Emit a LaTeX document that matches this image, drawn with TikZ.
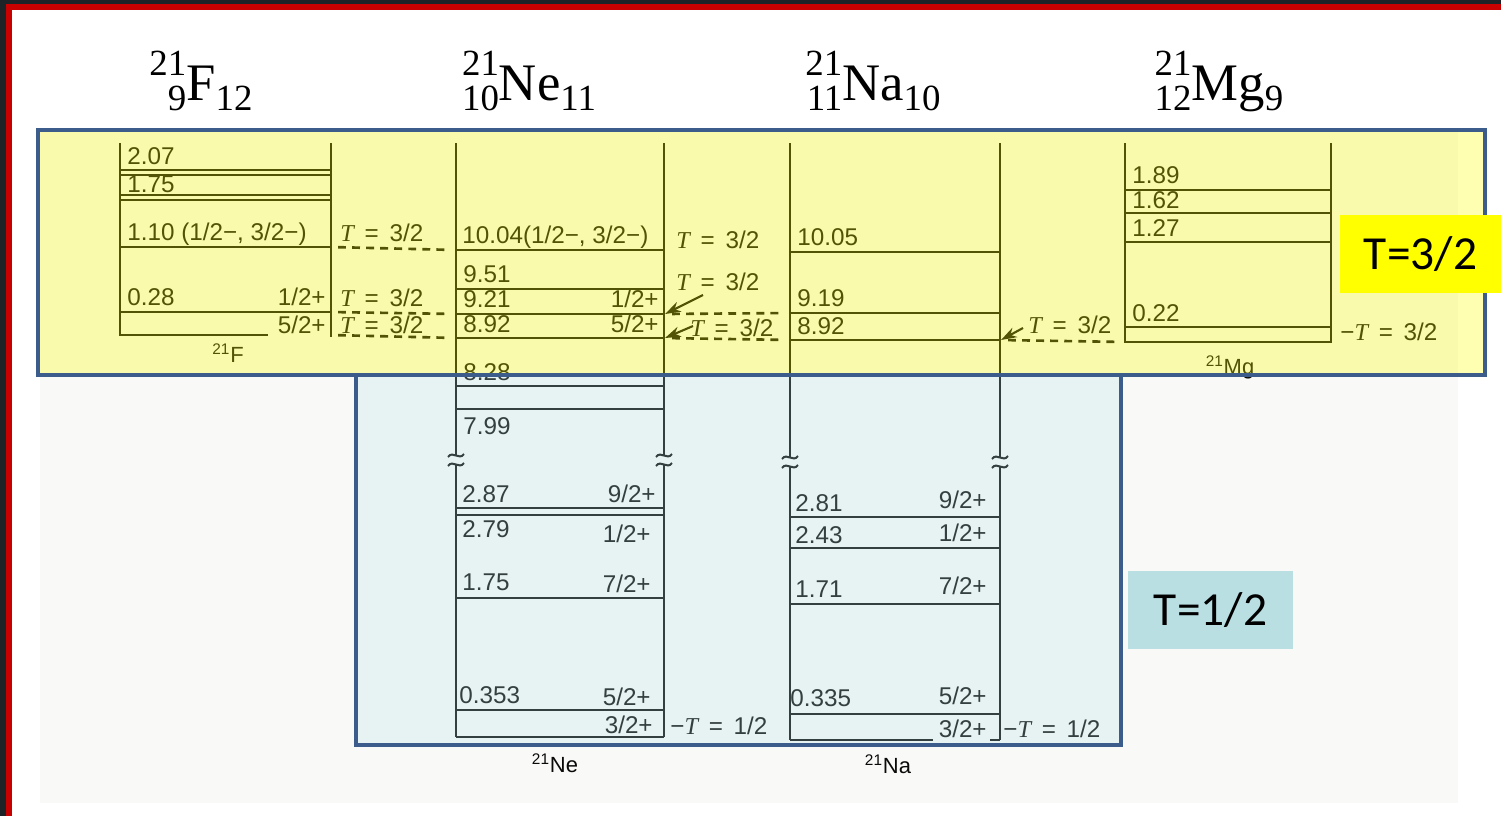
\documentclass[tikz,border=0pt]{standalone}
\usepackage{fontspec}
\setmainfont{Liberation Sans}
\newfontfamily\tnr{Liberation Serif}
\newfontfamily\carl{Carlito}
\usetikzlibrary{arrows.meta}
\definecolor{frame}{RGB}{30,35,40}
\definecolor{slidered}{RGB}{200,0,0}
\definecolor{boxblue}{RGB}{60,92,140}
\definecolor{lvl}{RGB}{10,10,8}
\definecolor{ylw}{RGB}{255,255,0}
\definecolor{ylwov}{RGB}{255,255,0}
\definecolor{bluov}{RGB}{178,222,230}
\definecolor{tealbox}{RGB}{185,223,227}
\definecolor{scan}{RGB}{249,249,248}
\newcommand\Tit{{\tnr\itshape T}}
\newcommand\Teq[1]{\Tit\ \,=\, #1}
% isotope symbol: mass number over proton number (right aligned), element, neutron number
\newcommand\iso[4]{\raisebox{-6.2pt}{\fontsize{21}{20.2}\selectfont\begin{tabular}[b]{@{}r@{}}#1\\#2\end{tabular}}#3\raisebox{-6.2pt}{\fontsize{21}{21}\selectfont #4}}
\tikzset{
  lev/.style={draw=lvl, line width=1.6pt},
  vline/.style={draw=lvl, line width=1.15pt},
  tdash/.style={draw=lvl, line width=1.5pt, dash pattern=on 4.5pt off 3.5pt, shorten <=4pt, shorten >=4pt},
  lab/.style={anchor=base west, inner sep=0pt, font=\fontsize{13.8}{15}\selectfont, text=lvl},
  labr/.style={lab, anchor=base east},
  nuc/.style={anchor=base, inner sep=0pt, font=\fontsize{12.5}{14}\selectfont, text=lvl},
  title/.style={anchor=base, inner sep=0pt, font=\tnr\fontsize{30}{32}\selectfont},
  tarrow/.style={draw=lvl, line width=1.2pt, -{Stealth[length=9pt,width=6pt]}},
  tbox/.style={inner sep=0pt, font=\carl\fontsize{27}{30}\selectfont},
}
\newcommand\brk[2]{\draw[vline] (#1-8,#2+2) .. controls (#1-3,#2-5) and (#1+3,#2+6) .. (#1+8,#2-1);}
\begin{document}
\begin{tikzpicture}[x=0.02cm,y=-0.02cm]
\useasboundingbox (0,0) rectangle (1501,816);
% slide background and frame
\fill[white] (0,0) rectangle (1501,816);
\fill[frame] (0,0) rectangle (1501,4);
\fill[frame] (0,0) rectangle (6,816);
\fill[slidered] (6,4) rectangle (1501,10);
\fill[slidered] (6,4) rectangle (12,816);
\fill[scan] (40,132) rectangle (1458,803);
% titles
\node[title] (tF)  at (201,100) {\iso{21}{9}{F}{12}};
\node[title] (tNe) at (529,100) {\iso{21}{10}{Ne}{11}};
\node[title] (tNa) at (873,100) {\iso{21}{11}{Na}{10}};
\node[title] (tMg) at (1219,100) {\iso{21}{12}{Mg}{9}};
% ---------- 21F ----------
\draw[vline] (120,143) -- (120,336);
\draw[vline] (331,143) -- (331,337);
\foreach \y in {170,175,195,200,247,312} \draw[lev] (120,\y) -- (331,\y);
\draw[lev] (120,335) -- (268,335);
\node[lab] (f1) at (127,164) {2.07};
\node[lab] (f2) at (127,192) {1.75};
\node[lab] (f3) at (127,240) {1.10 (1/2−, 3/2−)};
\node[lab] (f4) at (127,305) {0.28};
\node[labr] (f4j) at (326,305) {1/2+};
\node[labr] (f5j) at (326,333) {5/2+};
\node[nuc] (nF) at (228,362) {\textsuperscript{21}F};
\coordinate (F110) at (331,247);
\coordinate (F028) at (331,312);
\coordinate (F000) at (331,335);
\node[lab] (tf1) at (340,241) {\Teq{3/2}};
\node[lab] (tf2) at (340,306) {\Teq{3/2}};
\node[lab] (tf3) at (340,333) {\Teq{3/2}};
% ---------- 21Ne ----------
\draw[vline] (456,143) -- (456,455);
\draw[vline] (456,464) -- (456,737);
\draw[vline] (664,143) -- (664,455);
\draw[vline] (664,464) -- (664,737);
\brk{456}{455} \brk{456}{464}
\brk{664}{455} \brk{664}{464}
\foreach \y in {250,289,314,338,386,409,508,515,598,710,737} \draw[lev] (456,\y) -- (664,\y);
\node[lab] at (462,243) {10.04(1/2−, 3/2−)};
\node[lab] at (463,282) {9.51};
\node[lab] at (463,307) {9.21};
\node[labr] at (659,307) {1/2+};
\node[lab] at (463,332) {8.92};
\node[labr] at (659,332) {5/2+};
\node[lab] at (463,380) {8.28};
\node[lab] at (463,434) {7.99};
\node[lab] at (462,502) {2.87};
\node[labr] at (656,502) {9/2+};
\node[lab] at (462,537) {2.79};
\node[labr] at (651,542) {1/2+};
\node[lab] at (462,590) {1.75};
\node[labr] at (651,592) {7/2+};
\node[lab] at (459,703) {0.353};
\node[labr] at (651,705) {5/2+};
\node[labr] at (653,733) {3/2+};
\node[lab] (tne0) at (670,734) {−\Teq{1/2}};
\node[nuc] (nNe) at (555,772) {\textsuperscript{21}Ne};
\coordinate (Ne1004) at (456,250);
\coordinate (Ne921L) at (456,314);
\coordinate (Ne892L) at (456,338);
\coordinate (Ne921R) at (665,314);
\coordinate (Ne892R) at (665,338);
\node[lab] (tn1) at (676,248) {\Teq{3/2}};
\node[lab] (tn2) at (676,290) {\Teq{3/2}};
\node[lab] (tn3) at (690,336) {\Teq{3/2}};
\coordinate (an1) at (703,295);
\coordinate (an2) at (693,326);
% ---------- 21Na ----------
\draw[vline] (790,143) -- (790,457);
\draw[vline] (790,466) -- (790,740);
\draw[vline] (1000,143) -- (1000,457);
\draw[vline] (1000,466) -- (1000,740);
\brk{790}{457} \brk{790}{466}
\brk{1000}{457} \brk{1000}{466}
\foreach \y in {252,313,340,517,548,604,714} \draw[lev] (790,\y) -- (1000,\y);
\draw[lev] (790,740) -- (933,740);
\draw[lev] (990,740) -- (1000,740);
\node[lab] at (797,245) {10.05};
\node[lab] at (797,306) {9.19};
\node[lab] at (797,334) {8.92};
\node[lab] at (795,511) {2.81};
\node[labr] at (987,508) {9/2+};
\node[lab] at (795,543) {2.43};
\node[labr] at (987,541) {1/2+};
\node[lab] at (795,597) {1.71};
\node[labr] at (987,594) {7/2+};
\node[lab] at (790,706) {0.335};
\node[labr] at (987,704) {5/2+};
\node[labr] at (987,737) {3/2+};
\node[lab] (tna0) at (1003,737) {−\Teq{1/2}};
\node[nuc] (nNa) at (888,773) {\textsuperscript{21}Na};
\coordinate (Na919) at (790,313);
\coordinate (Na892L) at (790,340);
\coordinate (Na892R) at (1001,340);
\node[lab] (ta1) at (1028,333) {\Teq{3/2}};
\coordinate (aa1) at (1023,328);
% ---------- 21Mg ----------
\draw[vline] (1125,143) -- (1125,343);
\draw[vline] (1331,143) -- (1331,343);
\foreach \y in {190,213,242,327,342} \draw[lev] (1125,\y) -- (1331,\y);
\node[lab] at (1132,183) {1.89};
\node[lab] at (1132,208) {1.62};
\node[lab] at (1132,236) {1.27};
\node[lab] at (1132,321) {0.22};
\node[lab] (tmg0) at (1340,340) {−\Teq{3/2}};
\node[nuc] (nMg) at (1230,374) {\textsuperscript{21}Mg};
\coordinate (Mg000) at (1125,342);
% ---------- analog-state connectors ----------
\draw[tdash] (F110) -- (Ne1004);
\draw[tdash] (F028) -- (Ne921L);
\draw[tdash] (F000) -- (Ne892L);
\draw[tdash] (Ne921R) -- (Na919);
\draw[tdash] (Ne892R) -- (Na892L);
\draw[tdash] (Na892R) -- (Mg000);
\draw[tarrow] (an1) -- (Ne921R);
\draw[tarrow] (an2) -- (Ne892R);
\draw[tarrow] (aa1) -- (Na892R);
% ---------- overlays ----------
\fill[bluov, fill opacity=0.25] (356,375) rectangle (1121,745);
\fill[ylwov, fill opacity=0.3] (38,130) rectangle (1485,375);
\draw[boxblue, line width=2.8pt] (356,375) rectangle (1121,745);
\draw[boxblue, line width=2.8pt] (38,130) rectangle (1485,375);
% ---------- isospin tags ----------
\node[tbox, fill=ylw, minimum width=161*0.02cm, minimum height=78*0.02cm] (T32) at (1420.5,254) {T=3/2};
\node[tbox, fill=tealbox, minimum width=165*0.02cm, minimum height=78*0.02cm] (T12) at (1210.5,610) {T=1/2};
\end{tikzpicture}
\end{document}
